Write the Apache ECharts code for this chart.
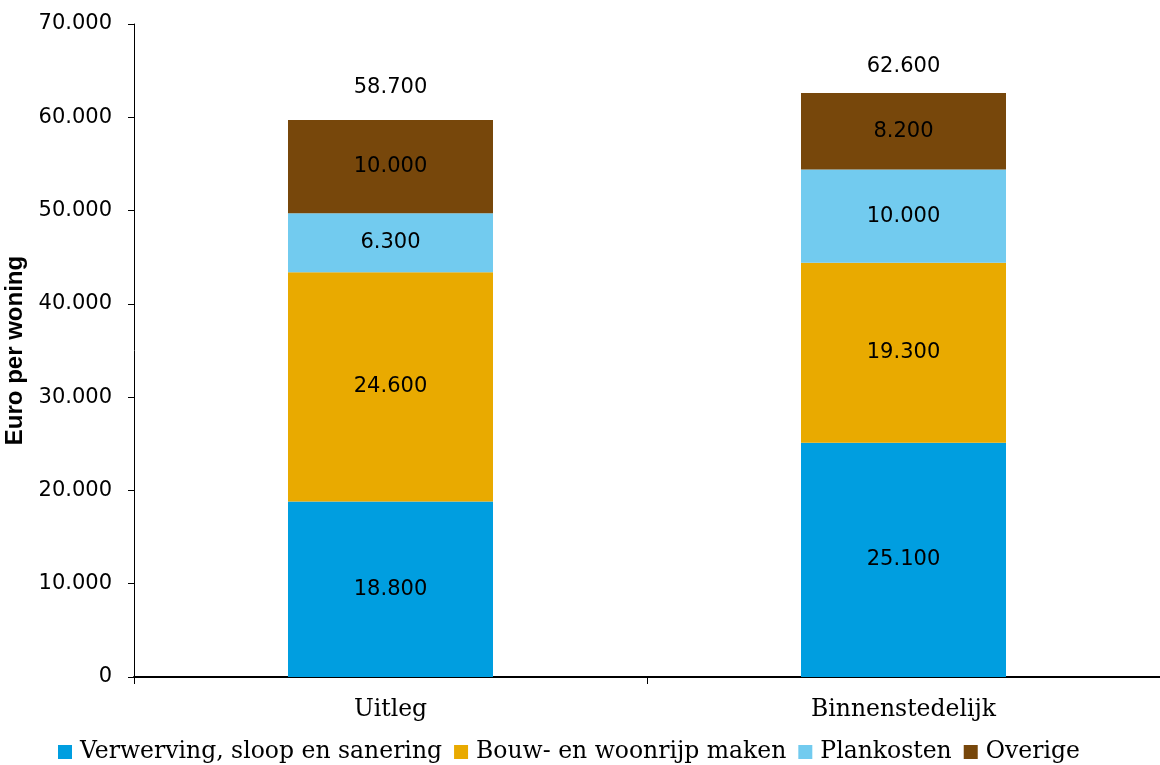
<!DOCTYPE html>
<html><head><meta charset="utf-8">
<script src="https://cdn.jsdelivr.net/npm/echarts@6/dist/echarts.min.js"></script>
<style>html,body{margin:0;padding:0;background:#fff}#c{width:1160px;height:765px}</style>
</head><body><div id="c"></div>
<script>
const categories = ['Uitleg', 'Binnenstedelijk'];
const verwerving = [18800, 25100];
const bouwrijp = [24600, 19300];
const plankosten = [6300, 10000];
const overige = [10000, 8200];
const totals = [58700, 62600];
const seriesNames = ['Verwerving, sloop en sanering', 'Bouw- en woonrijp maken', 'Plankosten', 'Overige'];
const colors = ['#009EE0', '#E9AA00', '#72CBEF', '#77470B'];

const fmt = v => String(v).replace(/\B(?=(\d{3})+(?!\d))/g, '.');
const numFont = 'DejaVu Sans';
const serifFont = 'DejaVu Serif';

function mk(name, data, color) {
  return {
    name, type: 'bar', stack: 't', data, barWidth: 205,
    itemStyle: { color },
    label: { show: true, position: 'inside', color: '#000', fontFamily: numFont, fontSize: 21,
      formatter: p => fmt(p.value) }
  };
}
const s = [mk(seriesNames[0], verwerving, colors[0]), mk(seriesNames[1], bouwrijp, colors[1]),
  mk(seriesNames[2], plankosten, colors[2]), mk(seriesNames[3], overige, colors[3])];
const totalDist = [22, 16];
s.push({
  name: 'totaal', type: 'bar', stack: 't', barWidth: 205, silent: true,
  itemStyle: { color: 'transparent' },
  data: totals.map((t, i) => ({ value: 0, label: { distance: totalDist[i] } })),
  label: { show: true, position: 'top', color: '#000', fontFamily: numFont, fontSize: 21,
    formatter: p => fmt(totals[p.dataIndex]) }
});

const chart = echarts.init(document.getElementById('c'));
chart.setOption({
  animation: false,
  grid: { left: 134, right: 0, top: 24, bottom: 88, containLabel: false, outerBoundsMode: 'none' },
  legend: {
    data: seriesNames, bottom: -4, left: 53, itemWidth: 14, itemHeight: 14, itemGap: 12,
    icon: 'rect',
    textStyle: { fontFamily: serifFont, fontSize: 23.5, color: '#000', padding: [0, 0, 0, 3] }
  },
  xAxis: {
    type: 'category', data: categories,
    axisLine: { lineStyle: { color: '#000', width: 2 } },
    axisTick: { show: true, length: 7, lineStyle: { color: '#000', width: 1 } },
    axisLabel: { fontFamily: serifFont, fontSize: 23.5, color: '#000', margin: 21 }
  },
  yAxis: {
    type: 'value', min: 0, max: 70000, interval: 10000,
    name: 'Euro per woning', nameLocation: 'middle', nameGap: 102, nameRotate: 90,
    nameTextStyle: { fontFamily: 'Liberation Sans', fontWeight: 'bold', fontSize: 24, color: '#000' },
    axisLine: { show: true, lineStyle: { color: '#000', width: 1 } },
    axisTick: { show: true, length: 6, lineStyle: { color: '#000' } },
    splitLine: { show: false },
    axisLabel: { fontFamily: numFont, fontSize: 21, color: '#000', margin: 22, formatter: v => fmt(v) }
  },
  series: s
});
</script></body></html>
